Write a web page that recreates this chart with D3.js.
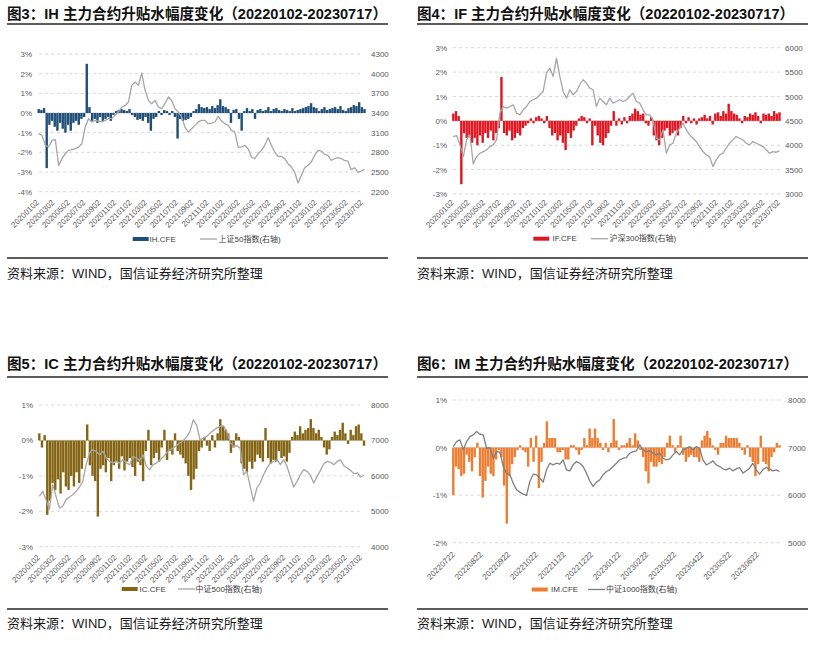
<!DOCTYPE html>
<html>
<head>
<meta charset="utf-8">
<script src="https://cdn.jsdelivr.net/npm/d3@7"></script>
<style>
  body { margin: 0; background: #fff; }
  svg { display: block; }
</style>
</head>
<body>
<svg id="chart" width="815" height="650"></svg>
<script>
// basis of the main contract (%), sampled roughly every 8 trading days
var ihBars = [
  0.2, 0.15, 0.25, -2.8, -0.6, -0.4, -0.7, -0.9, -0.5, -0.8,
  -1.0, -0.6, -0.9, -0.5, -0.4, -0.6, -0.3, -0.2, 2.5, 0.3,
  -0.4, -0.3, -0.5, -0.2, -0.4, -0.3, -0.2, -0.4, -0.1, 0.1,
  0.15, 0.2, 0.15, 0.1, 0.2, -0.1, -0.2, -0.35, -0.3, -0.4,
  -0.2, -0.5, -0.9, -0.3, -0.2, 0.1, -0.1, 0.15, 0.1, -0.1,
  0.1, -0.2, -1.3, -0.3, -0.4, -0.35, -0.3, -0.2, 0.1, 0.2,
  0.45, 0.3, 0.25, 0.3, 0.2, 0.35, 0.25, 0.4, 0.7, 0.35,
  0.3, 0.2, -0.5, 0.15, 0.2, -0.3, -0.9, 0.1, 0.25, 0.1,
  0.2, -0.3, 0.15, 0.2, 0.1, 0.15, 0.3, 0.1, 0.2, 0.25,
  0.15, 0.1, 0.2, 0.15, 0.1, 0.25, 0.1, 0.15, 0.2, 0.25,
  0.3, 0.35, 0.5, 0.3, 0.25, 0.1, 0.2, 0.3, 0.15, 0.2,
  0.25, 0.3, 0.2, 0.35, 0.15, 0.1, 0.25, 0.3, 0.4, 0.35,
  0.55, 0.3, 0.2
];
var ihLine = [
  3085, 3059, 2907, 2881, 2983, 2993, 2602, 2703, 2780, 2830,
  2841, 2856, 2881, 2932, 3186, 3314, 3263, 3288, 3278, 3263,
  3288, 3314, 3314, 3364, 3415, 3492, 3517, 3568, 3822, 3873,
  3822, 4010, 3746, 3593, 3542, 3593, 3492, 3466, 3542, 3644,
  3593, 3466, 3415, 3339, 3186, 3110, 3161, 3212, 3263, 3288,
  3288, 3237, 3247, 3263, 3349, 3278, 3237, 3212, 3136, 3110,
  2881, 2881, 2907, 2856, 2729, 2703, 2780, 2830, 2907, 3024,
  2907, 2805, 2739, 2739, 2703, 2627, 2576, 2500, 2332, 2449,
  2566, 2602, 2652, 2754, 2830, 2820, 2769, 2754, 2678, 2703,
  2719, 2703, 2678, 2668, 2536, 2566, 2500, 2515, 2541
];

var ifBars = [
  0.3, 0.4, 0.2, -2.6, -0.5, -0.7, -0.6, -0.9, -0.7, -1.0,
  -0.6, -0.9, -0.5, -0.7, -0.4, -0.8, -0.5, -0.3, 1.8, -0.5,
  -0.6, -0.4, -0.8, -0.7, -0.5, -0.6, -0.3, -0.2, -0.1, 0.1,
  -0.1, 0.15, 0.2, 0.1, -0.1, 0.2, -0.3, -0.6, -0.5, -0.8,
  -0.6, -0.9, -1.2, -0.5, -0.7, -0.4, -0.2, 0.1, 0.2, 0.15,
  -0.1, 0.1, -1.0, -0.2, -0.6, -0.9, -1.0, -0.7, -0.5, -0.2,
  0.4, -0.2, 0.1, -0.15, 0.15, -0.1, 0.2, 0.3, 0.5, 0.4,
  0.25, 0.3, -0.1, -0.2, 0.15, -0.6, -0.8, -1.0, -0.7, -0.4,
  -0.3, -0.6, -0.5, -0.4, -0.6, -0.3, 0.2, -0.1, 0.15, -0.1,
  0.1, -0.15, 0.1, 0.15, 0.25, 0.1, 0.2, -0.15, 0.3, 0.35,
  0.2, 0.4, 0.3, 0.7, 0.4, 0.3, 0.25, 0.1, -0.1, 0.2,
  0.15, 0.3, 0.25, 0.35, 0.2, -0.1, 0.3, 0.25, 0.3, 0.2,
  0.4, 0.3, 0.35
];
var ifLine = [
  4178, 4199, 4007, 3767, 4110, 4212, 3616, 3767, 3836, 3870,
  3904, 3973, 4007, 4110, 4658, 4795, 4760, 4795, 4829, 4658,
  4623, 4726, 4795, 4897, 4932, 4966, 5034, 5103, 5480, 5582,
  5411, 5788, 5411, 5103, 4966, 5137, 5034, 5103, 5240, 5343,
  5274, 5171, 5137, 4795, 4966, 4897, 4829, 4966, 4863, 4897,
  4932, 4897, 4932, 5000, 5069, 4897, 4863, 4726, 4623, 4623,
  4521, 4144, 4110, 4315, 3836, 4007, 4041, 4247, 4349, 4452,
  4315, 4212, 4144, 4075, 3973, 3870, 3801, 3767, 3562, 3699,
  3801, 3836, 3938, 4041, 4110, 4178, 4144, 4110, 4041, 4007,
  4075, 4041, 4007, 3973, 3904, 3836, 3870, 3856, 3884
];

var icBars = [
  0.2, -0.2, 0.15, -2.1, -1.7, -1.2, -1.4, -1.1, -1.5, -0.9,
  -1.3, -1.4, -1.0, -1.3, -0.9, -1.2, -0.8, -0.5, 0.45, -0.7,
  -1.0, -1.15, -2.15, -0.8, -0.7, -0.9, -0.5, -1.15, -0.7, -0.6,
  -0.8, -0.45, -0.85, -0.6, -0.5, -0.75, -1.0, -0.6, -0.7, -1.15,
  -0.3, 0.3, -0.7, -0.5, -0.35, -0.6, -0.2, 0.3, -0.55, -0.3,
  -0.4, 0.2, -0.3, -0.4, -0.5, -0.65, -1.0, -1.4, -1.1, -0.8,
  -0.3, -0.2, 0.1, -0.15, -0.3, 0.15, -0.2, 0.2, 0.6, 0.4,
  0.3, 0.2, -0.35, -0.2, 0.2, 0.1, -0.65, -0.8, -0.9, -0.6,
  -0.8, -0.6, -0.4, -0.5, -0.6, 0.35, -0.5, -0.65, -0.55, -0.6,
  -0.3, -0.5, -0.45, -0.6, -0.35, 0.1, 0.25, 0.15, 0.4, 0.2,
  0.3, 0.35, 0.6, 0.35, 0.2, 0.3, 0.1, -0.2, -0.4, -0.25,
  0.1, 0.25, 0.15, 0.3, 0.5, 0.2, -0.1, 0.3, 0.15, 0.4,
  0.45, 0.2, -0.15
];
var icLine = [
  5422, 5563, 5329, 5047, 5751, 5422, 5094, 5141, 5329, 5404,
  5469, 5563, 5685, 5845, 6315, 6643, 6737, 6690, 6596, 6690,
  6502, 6408, 6361, 6408, 6361, 6455, 6361, 6315, 6549, 6502,
  6437, 6596, 6268, 6174, 6315, 6361, 6455, 6530, 6643, 6737,
  6784, 6859, 6925, 7000, 7094, 7254, 7582, 7441, 7019, 7066,
  7113, 7207, 7282, 7347, 7394, 7413, 7254, 6944, 6831, 6850,
  6784, 6033, 6127, 5704, 5282, 5657, 5798, 6033, 6221, 6361,
  6408, 6455, 6315, 6455, 6268, 5967, 5685, 5845, 6033, 6174,
  6127, 6005, 5798, 5986, 6155, 6343, 6408, 6380, 6315, 6408,
  6455, 6286, 6221, 6155, 6061, 6080, 5967, 6023
];

var imBars = [
  -1.0, -0.4, -0.45, -0.6, -0.55, -0.15, -0.3, -0.5, -0.2, 0.1,
  -0.6, -1.05, -0.7, -0.4, -0.55, -0.6, -0.25, -0.05, -0.2, -0.8,
  -1.6, -0.6, -0.35, -0.2, -0.05, 0.05, -0.05, -0.1, -0.4, 0.2,
  -0.3, 0.25, -0.85, -0.3, 0.1, 0.55, 0.2, 0.2, 0.2, -0.1,
  -0.1, -0.05, -0.25, -0.25, 0.05, 0.05, -0.05, -0.15, -0.05, 0.2,
  0.05, 0.4, 0.2, 0.4, 0.2, 0.1, -0.05, 0.1, -0.1, 0.1,
  0.6, 0.15, -0.05, 0.05, 0.05, 0.1, 0.2, 0.05, 0.3, 0.15,
  -0.05, -0.2, -0.5, -0.75, -0.3, -0.4, -0.4, -0.3, -0.35, -0.2,
  0.1, 0.25, 0.05, -0.1, 0.05, 0.25, -0.15, -0.3, -0.2, -0.15,
  -0.2, -0.2, -0.3, 0.15, 0.25, 0.35, 0.2, 0.05, -0.05, -0.15,
  0.1, 0.1, 0.25, 0.2, 0.2, 0.2, 0.2, 0.1, -0.05, -0.15,
  0.05, -0.2, -0.3, -0.6, -0.35, 0.25, -0.3, -0.35, -0.5, -0.2,
  -0.1, 0.1, 0.05
];
var imLine = [
  7021, 7126, 7161, 6951, 7126, 7231, 7266, 7336, 7280, 7266,
  6986, 7000, 6776, 6916, 6902, 6602, 6462, 6427, 6252, 6112,
  6063, 6021, 5993, 6287, 6441, 6427, 6357, 6273, 6532, 6671,
  6637, 6671, 6650, 6741, 6532, 6511, 6637, 6706, 6671, 6602,
  6462, 6301, 6182, 6273, 6322, 6427, 6497, 6532, 6602, 6671,
  6741, 6776, 6790, 6881, 6916, 6930, 7056, 6951, 6916, 6930,
  6881, 6846, 6881, 6776, 6741, 6762, 6846, 6916, 6846, 6951,
  6986, 7021, 6951, 7021, 6986, 6741, 6637, 6671, 6720, 6637,
  6602, 6553, 6532, 6567, 6511, 6553, 6581, 6462, 6511, 6567,
  6671, 6532, 6441, 6532, 6581, 6553, 6511, 6532, 6497
];

var dateTicks = ['20200102', '20200302', '20200502', '20200702', '20200902', '20201102',
  '20210102', '20210302', '20210502', '20210702', '20210902', '20211102',
  '20220102', '20220302', '20220502', '20220702', '20220902', '20221102',
  '20230102', '20230302', '20230502', '20230702'];
var imDateTicks = ['20220722', '20220822', '20220922', '20221022', '20221122', '20221222',
  '20230122', '20230222', '20230322', '20230422', '20230522', '20230622'];

var sourceText = '资料来源：WIND，国信证券经济研究所整理';
var FONT = '"Liberation Sans", "Noto Sans CJK SC", sans-serif';

var svg = d3.select('#chart').attr('font-family', FONT);

var panels = [
  { title: '图3：IH 主力合约升贴水幅度变化（20220102-20230717）', titleLen: 380,
    left: 7, right: 388, titleY: 13, topRuleY: 24, bottomRuleY: 258, sourceY: 273,
    plotX: [38.7, 364.5], gridX: [39, 363], yRange: [191.7, 54],
    pctDomain: [-4, 3], idxDomain: [2200, 4300], idxStep: 300,
    leftLabelX: 32, rightLabelX: 371,
    bars: ihBars, line: ihLine, ticks: dateTicks, tickX: [37, 361], tickY: 201,
    barColor: '#1f4e79', lineColor: '#a6a6a6',
    barName: 'IH.CFE', lineName: '上证50指数(右轴)', legendY: 239, legendX: [132.7, 149.5, 200, 218.5] },
  { title: '图4：IF 主力合约升贴水幅度变化（20220102-20230717）', titleLen: 377,
    left: 417, right: 808, titleY: 13, topRuleY: 24, bottomRuleY: 258, sourceY: 273,
    plotX: [453.3, 779.5], gridX: [453, 780], yRange: [194, 47.7],
    pctDomain: [-3, 3], idxDomain: [3000, 6000], idxStep: 500,
    leftLabelX: 447, rightLabelX: 785,
    bars: ifBars, line: ifLine, ticks: dateTicks, tickX: [452, 778], tickY: 201,
    barColor: '#df1723', lineColor: '#a6a6a6',
    barName: 'IF.CFE', lineName: '沪深300指数(右轴)', legendY: 238.7, legendX: [533.3, 552.5, 591, 609.5] },
  { title: '图5：IC 主力合约升贴水幅度变化（20220102-20230717）', titleLen: 380,
    left: 7, right: 388, titleY: 363, topRuleY: 377, bottomRuleY: 609, sourceY: 623,
    plotX: [39.3, 364], gridX: [39, 363], yRange: [546.7, 405],
    pctDomain: [-3, 1], idxDomain: [4000, 8000], idxStep: 1000,
    leftLabelX: 33, rightLabelX: 371,
    bars: icBars, line: icLine, ticks: dateTicks, tickX: [38, 360], tickY: 556,
    barColor: '#856514', lineColor: '#a6a6a6',
    barName: 'IC.CFE', lineName: '中证500指数(右轴)', legendY: 589, legendX: [121.7, 139.5, 178, 195.5] },
  { title: '图6：IM 主力合约升贴水幅度变化（20220102-20230717）', titleLen: 381,
    left: 417, right: 808, titleY: 363, topRuleY: 377, bottomRuleY: 609, sourceY: 623,
    plotX: [453.3, 779.5], gridX: [453, 780], yRange: [542.7, 400],
    pctDomain: [-2, 1], idxDomain: [5000, 8000], idxStep: 1000,
    leftLabelX: 447, rightLabelX: 788,
    bars: imBars, line: imLine, ticks: imDateTicks, tickX: [453, 757], tickY: 553,
    barColor: '#ed7d31', lineColor: '#7f7f7f',
    barName: 'IM.CFE', lineName: '中证1000指数(右轴)', legendY: 589.5, legendX: [531.7, 551, 588, 606] }
];

function drawPanel(p) {
  var g = svg.append('g');

  var x = d3.scaleLinear().domain([0, 1]).range(p.plotX);
  var yPct = d3.scaleLinear().domain(p.pctDomain).range(p.yRange);
  var yIdx = d3.scaleLinear().domain(p.idxDomain).range(p.yRange);
  var pctTicks = d3.range(p.pctDomain[0], p.pctDomain[1] + 0.5, 1);
  var idxTicks = d3.range(p.idxDomain[0], p.idxDomain[1] + 1, p.idxStep);

  // title, rules and source line
  g.append('text')
    .attr('x', p.left).attr('y', p.titleY)
    .attr('dominant-baseline', 'central')
    .attr('font-size', 15).attr('font-weight', 'bold').attr('fill', '#111')
    .attr('textLength', p.titleLen).attr('lengthAdjust', 'spacingAndGlyphs')
    .text(p.title);
  [p.topRuleY, p.bottomRuleY].forEach(function(yy) {
    g.append('line')
      .attr('x1', p.left).attr('x2', p.right).attr('y1', yy).attr('y2', yy)
      .attr('stroke', '#262626').attr('stroke-width', 1.5);
  });
  g.append('text')
    .attr('x', p.left).attr('y', p.sourceY)
    .attr('dominant-baseline', 'central')
    .attr('font-size', 13).attr('fill', '#1a1a1a')
    .text(sourceText);

  // dashed gridlines + solid zero line
  g.selectAll('.grid').data(pctTicks).enter().append('line')
    .attr('class', 'grid')
    .attr('x1', p.gridX[0]).attr('x2', p.gridX[1])
    .attr('y1', function(d) { return yPct(d); })
    .attr('y2', function(d) { return yPct(d); })
    .attr('stroke', '#d9d9d9').attr('stroke-dasharray', '3,3');
  g.append('line')
    .attr('x1', p.gridX[0]).attr('x2', p.gridX[1])
    .attr('y1', yPct(0)).attr('y2', yPct(0))
    .attr('stroke', '#d9d9d9').attr('stroke-width', 1.2);

  // basis bars
  var n = p.bars.length;
  var bw = (p.plotX[1] - p.plotX[0]) / (n - 1) * 0.9;
  g.selectAll('.bar').data(p.bars).enter().append('rect')
    .attr('class', 'bar')
    .attr('x', function(d, i) { return x(i / (n - 1)) - bw / 2; })
    .attr('y', function(d) { return yPct(Math.max(0, d)); })
    .attr('width', bw)
    .attr('height', function(d) { return Math.abs(yPct(d) - yPct(0)); })
    .attr('fill', p.barColor);

  // index line (right axis)
  var m = p.line.length;
  var line = d3.line()
    .x(function(d, i) { return x(i / (m - 1)); })
    .y(function(d) { return yIdx(d); });
  g.append('path').datum(p.line)
    .attr('d', line)
    .attr('fill', 'none').attr('stroke', p.lineColor)
    .attr('stroke-width', 1.3).attr('stroke-linejoin', 'round');

  // axes
  var la = g.append('g').attr('transform', 'translate(' + p.leftLabelX + ',0)')
    .call(d3.axisLeft(yPct).tickValues(pctTicks)
      .tickFormat(function(d) { return d + '%'; }).tickSize(0).tickPadding(0));
  var ra = g.append('g').attr('transform', 'translate(' + p.rightLabelX + ',0)')
    .call(d3.axisRight(yIdx).tickValues(idxTicks)
      .tickFormat(d3.format('d')).tickSize(0).tickPadding(0));
  var xd = d3.scalePoint().domain(p.ticks).range(p.tickX);
  var ba = g.append('g').attr('transform', 'translate(0,' + p.tickY + ')')
    .call(d3.axisBottom(xd).tickSize(0));
  ba.selectAll('text')
    .attr('y', 0).attr('dy', '0.35em')
    .attr('text-anchor', 'end')
    .attr('transform', 'rotate(-45)');
  [la, ra, ba].forEach(function(a) {
    a.select('.domain').remove();
    a.attr('font-family', FONT).attr('font-size', 8);
    a.selectAll('text').attr('fill', '#595959');
  });

  // legend
  var lg = g.append('g').attr('font-size', 8).attr('fill', '#404040');
  lg.append('rect')
    .attr('x', p.legendX[0]).attr('y', p.legendY - 2)
    .attr('width', 16).attr('height', 4)
    .attr('fill', p.barColor);
  lg.append('text')
    .attr('x', p.legendX[1]).attr('y', p.legendY)
    .attr('dominant-baseline', 'central')
    .text(p.barName);
  lg.append('line')
    .attr('x1', p.legendX[2]).attr('x2', p.legendX[2] + 17)
    .attr('y1', p.legendY).attr('y2', p.legendY)
    .attr('stroke', p.lineColor).attr('stroke-width', 1.3);
  lg.append('text')
    .attr('x', p.legendX[3]).attr('y', p.legendY)
    .attr('dominant-baseline', 'central')
    .text(p.lineName);
}

panels.forEach(drawPanel);
</script>
</body>
</html>
